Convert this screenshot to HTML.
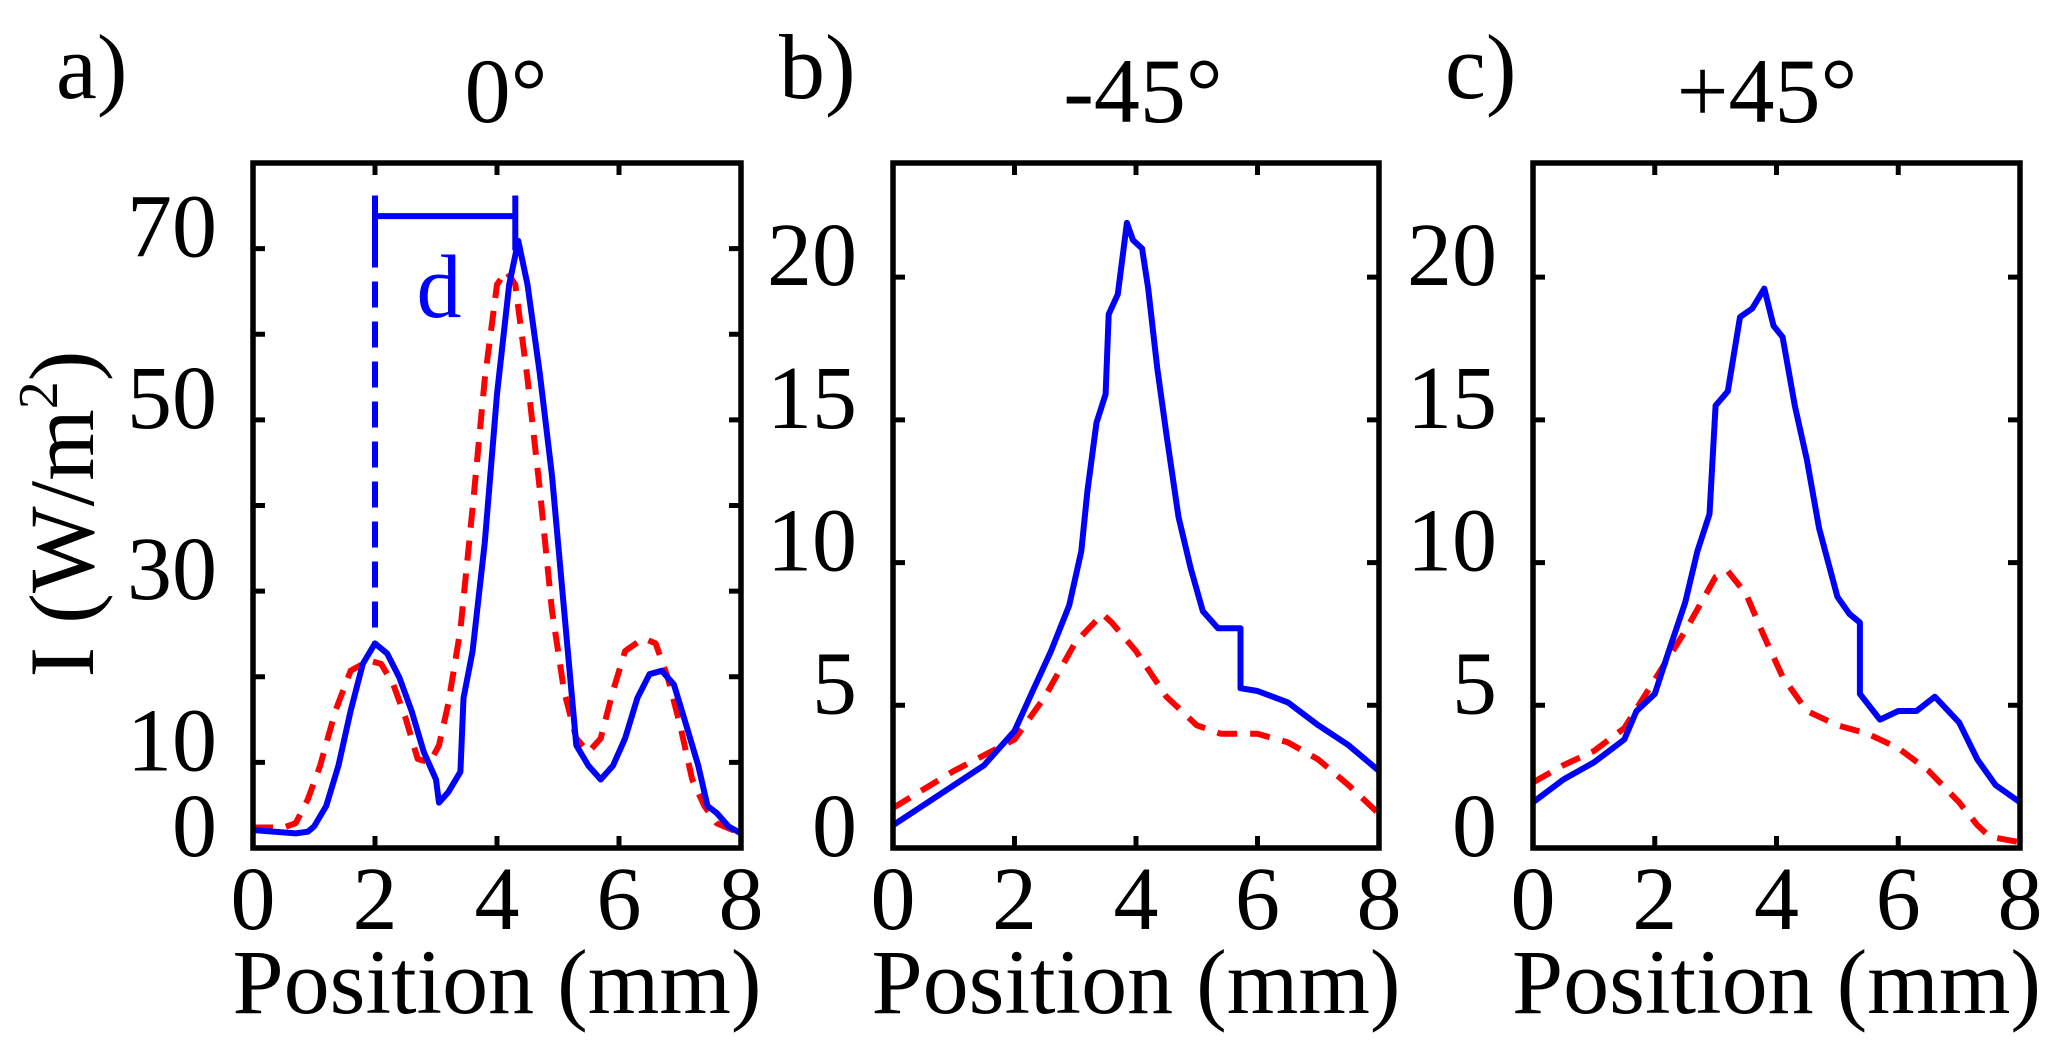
<!DOCTYPE html>
<html><head><meta charset="utf-8"><style>
html,body{margin:0;padding:0;background:#fff}
svg{display:block}
text{font-family:"Liberation Serif",serif;fill:#000}
</style></head><body>
<svg id="fig" width="2062" height="1059" viewBox="0 0 2062 1059" xmlns="http://www.w3.org/2000/svg"></svg>
<script>
const xTicks=[0,2,4,6,8];
const aYTicks=[0,10,20,30,40,50,60,70,80];
const aYLabels=[0,10,30,50,70];
const bcYTicks=[0,5,10,15,20];
const aBlueX=[0,0.7,0.9,1.0,1.2,1.4,1.6,1.8,2.0,2.2,2.4,2.6,2.8,3.0,3.05,3.2,3.4,3.45,3.6,3.8,4.0,4.2,4.35,4.5,4.7,4.9,5.1,5.3,5.5,5.7,5.9,6.1,6.3,6.5,6.7,6.9,7.1,7.3,7.45,7.6,7.8,8.0];
const aBlueY=[2.1,1.7,1.9,2.5,4.9,9.6,16,21.5,23.9,22.7,19.9,16,11.2,8,5.3,6.5,8.9,17.5,23,35.7,53,65.8,70.9,65.8,55.5,43.6,27.8,12,9.6,8,9.6,12.8,17.5,20.3,20.7,19.1,14.4,9.6,4.9,4.1,2.5,1.7];
const aRedX=[0,0.5,0.7,0.9,1.1,1.35,1.6,1.9,2.1,2.3,2.5,2.7,2.9,3.05,3.2,3.4,3.6,3.8,4.0,4.15,4.3,4.5,4.7,4.9,5.1,5.3,5.5,5.7,5.9,6.1,6.4,6.6,6.8,7.0,7.2,7.4,7.6,8.0];
const aRedY=[2.4,2.4,2.9,5.7,9.6,16,20.7,21.9,21.5,19.1,15.2,10.4,10,12,16.8,25.5,39.7,54.8,65.8,67.4,65.8,54.8,42,27.8,18.3,12.8,11.2,12.8,18.3,23,24.5,23.9,19.9,14.4,8,4.9,2.9,1.7];
const bBlueX=[0,0.5,1.0,1.5,2.0,2.3,2.6,2.9,3.1,3.2,3.35,3.5,3.55,3.7,3.85,3.95,4.1,4.2,4.35,4.5,4.7,4.9,5.1,5.35,5.72,5.72,6.0,6.5,7.0,7.5,8.0];
const bBlueY=[0.8,1.5,2.2,2.9,4.1,5.5,6.9,8.5,10.4,12.5,14.9,15.9,18.7,19.4,21.9,21.3,21.0,19.6,16.8,14.5,11.6,9.8,8.3,7.7,7.7,5.6,5.5,5.1,4.3,3.6,2.7];
const bRedX=[0,1.0,2.0,2.5,3.0,3.45,3.6,4.0,4.5,5.0,5.4,6.0,6.5,7.0,7.5,8.0];
const bRedY=[1.4,2.7,3.8,5.3,7.2,8.2,7.9,6.9,5.3,4.3,4.0,4.0,3.7,3.1,2.2,1.2];
const cBlueX=[0,0.5,1.0,1.5,1.7,2.0,2.2,2.5,2.7,2.9,3.0,3.2,3.4,3.6,3.8,3.95,4.1,4.3,4.5,4.7,5.0,5.2,5.37,5.37,5.7,6.0,6.3,6.6,7.0,7.3,7.6,8.0];
const cBlueY=[1.6,2.4,3.0,3.8,4.8,5.4,6.7,8.6,10.4,11.7,15.5,16.0,18.6,18.9,19.6,18.3,17.9,15.5,13.6,11.2,8.8,8.2,7.9,5.4,4.5,4.8,4.8,5.3,4.4,3.1,2.2,1.6];
const cRedX=[0,0.5,1.0,1.5,2.0,2.5,3.0,3.2,3.5,3.8,4.1,4.5,5.0,5.5,6.0,6.5,7.0,7.3,7.5,8.0];
const cRedY=[2.3,2.9,3.4,4.2,5.9,7.6,9.5,9.7,8.9,7.4,6.0,4.8,4.3,4.0,3.5,2.7,1.6,0.8,0.4,0.2];

const NS="http://www.w3.org/2000/svg";
const svg=document.getElementById('fig');
function mk(tag,attrs,parent){const e=document.createElementNS(NS,tag);for(const k in attrs)e.setAttribute(k,attrs[k]);(parent||svg).appendChild(e);return e;}

const panels=[
 {id:'a',left:253,right:741,ymax:80,yt:aYTicks,yl:aYLabels,title:'0°',tx:506,letter:'a)',lx:56,series:[[aRedX,aRedY,'#ff0000',true],[aBlueX,aBlueY,'#0000ff',false]]},
 {id:'b',left:893,right:1379,ymax:24,yt:bcYTicks,yl:bcYTicks,title:'-45°',tx:1143,letter:'b)',lx:779,series:[[bRedX,bRedY,'#ff0000',true],[bBlueX,bBlueY,'#0000ff',false]]},
 {id:'c',left:1533,right:2020,ymax:24,yt:bcYTicks,yl:bcYTicks,title:'+45°',tx:1767,letter:'c)',lx:1445,series:[[cRedX,cRedY,'#ff0000',true],[cBlueX,cBlueY,'#0000ff',false]]}
];
const axTop=163,axBottom=848;
panels.forEach(p=>{
  const g=mk('g',{});
  
  
  const X=v=>p.left+(p.right-p.left)*v/8;
  const Y=v=>axBottom-(axBottom-axTop)*v/p.ymax;
  p.series.forEach(s=>{
    const pts=s[0].map((x,i)=>X(x).toFixed(1)+','+Y(s[1][i]).toFixed(1)).join(' ');
    const pl=mk('polyline',{points:pts,fill:'none',stroke:s[2],'stroke-width':6,'stroke-linejoin':'round'},g);
    if(s[3])pl.setAttribute('stroke-dasharray','20 13');
    
    
  });
  if(p.id==='a'){
    const dl=mk('line',{x1:X(2),x2:X(2),y1:Y(75.5),y2:Y(24),stroke:'#0000ff','stroke-width':6,'stroke-dasharray':'26 14'},g);
    
    
    const hl=mk('path',{d:`M${X(2)},${Y(73.8)}H${X(4.3)}M${X(2)},${Y(76.2)}V${Y(69.8)}M${X(4.3)},${Y(76.2)}V${Y(69.8)}`,stroke:'#0000ff','stroke-width':6,fill:'none'},g);
    
    
    const dt=mk('text',{x:X(3.05),y:Y(62),'font-size':90,'text-anchor':'middle'},g);
    dt.style.fill='#0000ff';dt.textContent='d';
    
    
  }
  const box=mk('rect',{x:p.left,y:axTop,width:p.right-p.left,height:axBottom-axTop,fill:'none',stroke:'#000','stroke-width':5.5},g);
  
  
  xTicks.forEach(t=>{
    mk('path',{d:`M${X(t)},${axBottom}v-12M${X(t)},${axTop}v12`,stroke:'#000','stroke-width':5},g);
    const tl=mk('text',{x:X(t),y:929,'font-size':90,'text-anchor':'middle'},g);
    tl.textContent=t;
    
    
  });
  p.yt.forEach(t=>{
    mk('path',{d:`M${p.left},${Y(t)}h12M${p.right},${Y(t)}h-12`,stroke:'#000','stroke-width':5},g);
  });
  p.yl.forEach(t=>{
    const tl=mk('text',{x:p.left-36,y:Y(t)+8,'font-size':90,'text-anchor':'end'},g);
    tl.textContent=t;
    
    
  });
  const xl=mk('text',{x:(p.left+p.right)/2,y:1013,'font-size':92,'text-anchor':'middle'},g);
  xl.textContent='Position (mm)';
  
  
  const tt=mk('text',{x:p.tx,y:122,'font-size':92,'text-anchor':'middle'},g);
  tt.textContent=p.title;
  
  
  const lt=mk('text',{x:p.lx,y:98,'font-size':92},g);
  lt.textContent=p.letter;
  
  
});
const yTitle=mk('text',{x:0,y:0,'font-size':92,'text-anchor':'middle',transform:'translate(93,514) rotate(-90)'});
yTitle.innerHTML='I (W/m<tspan font-size="56" dy="-36">2</tspan><tspan dy="36">)</tspan>';


</script>
</body></html>
